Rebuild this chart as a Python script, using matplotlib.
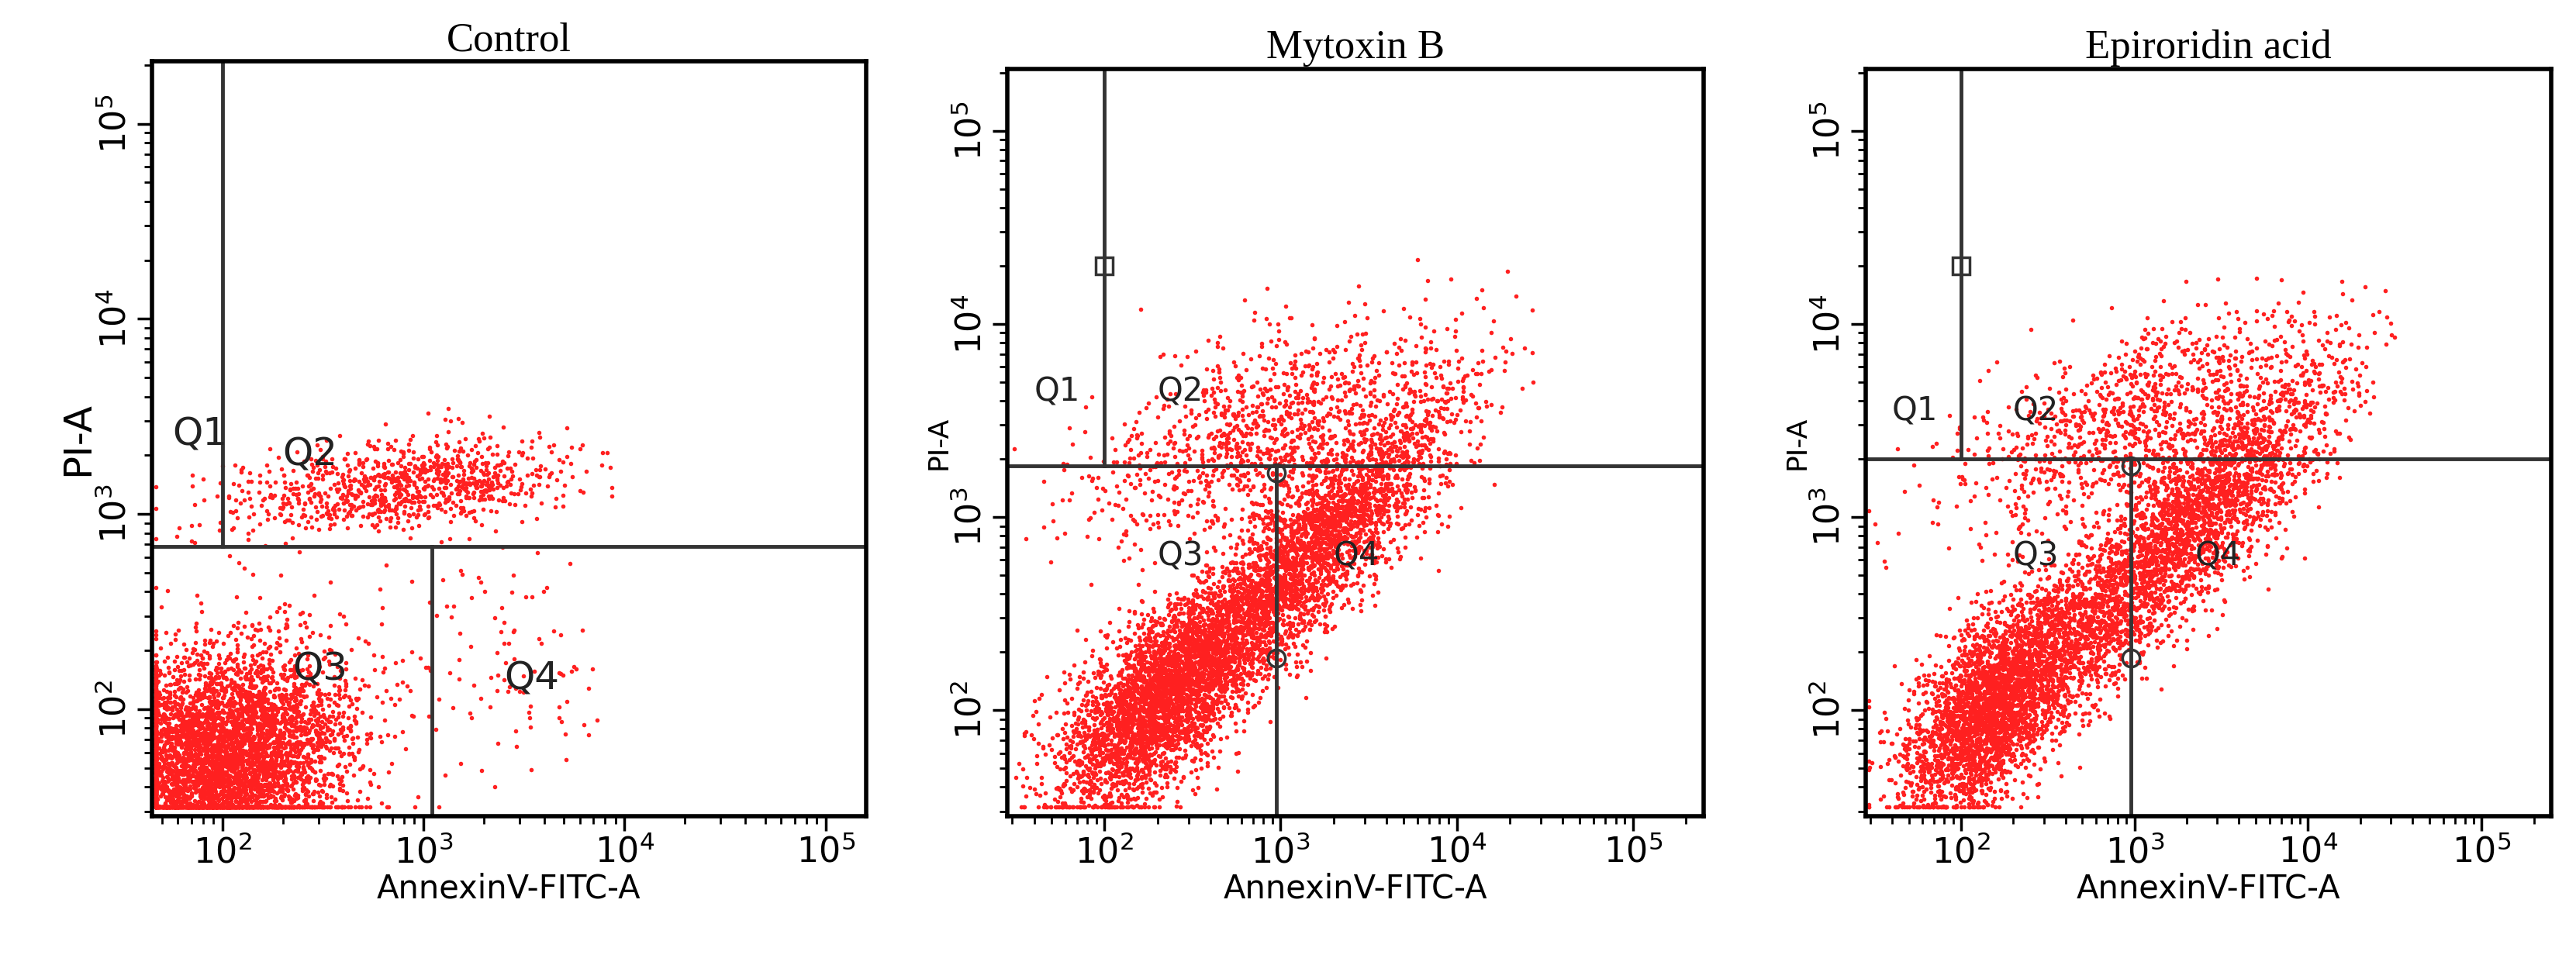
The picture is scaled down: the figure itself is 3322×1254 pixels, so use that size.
import numpy as np
import matplotlib.pyplot as plt
from matplotlib.ticker import LogLocator, NullFormatter

# Panel titles
titles = ['Control', 'Mytoxin B', 'Epiroridin acid']

# Population summaries, in log10 units:
# (centre x, centre y, spread x, spread y, correlation, count)
control_pops = [(2.0, 1.75, 0.30, 0.28, 0.2, 4800),
                (2.9, 3.15, 0.42, 0.12, 0.4, 900),
                (3.3, 2.2, 0.35, 0.35, 0.0, 120)]
mytoxin_pops = [(2.3, 2.05, 0.28, 0.28, 0.6, 2800),
                (3.1, 2.75, 0.45, 0.45, 0.88, 3400),
                (2.9, 3.45, 0.50, 0.28, 0.6, 1000)]
epiro_pops = [(2.2, 2.05, 0.26, 0.28, 0.6, 3000),
              (3.2, 2.85, 0.48, 0.45, 0.88, 3200),
              (3.0, 3.50, 0.50, 0.28, 0.6, 1000)]
populations = [control_pops, mytoxin_pops, epiro_pops]

# Upper limits of the clouds (log10 x, log10 y)
cloud_max = [(4.0, 3.95), (4.45, 4.35), (4.5, 4.25)]

# Quadrant gates: (Q1 vertical, Q3/Q4 vertical, horizontal) in data units
gates = [(100, 1100, 680), (100, 950, 1850), (100, 950, 2000)]

# Axis ranges (log10)
x_range = [(1.65, 5.2), (1.45, 5.4), (1.45, 5.4)]
y_range = (1.45, 5.32)

# Quadrant label positions (log10 x, log10 y)
q_labels = [[('Q1', 1.75, 3.35), ('Q2', 2.3, 3.25), ('Q3', 2.35, 2.15), ('Q4', 3.4, 2.1)],
            [('Q1', 1.6, 3.6), ('Q2', 2.3, 3.6), ('Q3', 2.3, 2.75), ('Q4', 3.3, 2.75)],
            [('Q1', 1.6, 3.5), ('Q2', 2.3, 3.5), ('Q3', 2.3, 2.75), ('Q4', 3.35, 2.75)]]

rng = np.random.default_rng(3)

fig = plt.figure(figsize=(33.23, 12.54), dpi=100)
rects = [[0.059, 0.16, 0.277, 0.777],
         [0.391, 0.16, 0.270, 0.769],
         [0.724, 0.16, 0.266, 0.769]]

for i, rect in enumerate(rects):
    ax = fig.add_axes(rect)
    xs, ys = [], []
    for cx, cy, sx, sy, r, n in populations[i]:
        cov = [[sx**2, r*sx*sy], [r*sx*sy, sy**2]]
        p = rng.multivariate_normal([cx, cy], cov, n)
        xs.append(p[:, 0]); ys.append(p[:, 1])
    lx = np.concatenate(xs); ly = np.concatenate(ys)
    keep = (lx < cloud_max[i][0]) & (ly < cloud_max[i][1])
    lx = np.clip(lx[keep], x_range[i][0] + 0.02, None)
    ly = np.clip(ly[keep], y_range[0] + 0.05, None)
    ax.scatter(10**lx, 10**ly, s=16, color='#ff2020', linewidths=0)

    ax.set_xscale('log'); ax.set_yscale('log')
    ax.set_xlim(10**x_range[i][0], 10**x_range[i][1])
    ax.set_ylim(10**y_range[0], 10**y_range[1])

    g1, g2, gh = gates[i]
    ymin, ymax = ax.get_ylim()
    ax.plot([g1, g1], [gh, ymax], color='#333333', lw=3.5)
    ax.plot([g2, g2], [ymin, gh], color='#333333', lw=3.5)
    ax.axhline(gh, color='#333333', lw=3.5)
    if i > 0:
        ax.plot(g1, 10**4.3, 's', mfc='none', mec='#333333', ms=16, mew=2.5)
        ax.plot(g2, gh * 0.92, 'o', mfc='none', mec='#333333', ms=16, mew=2.5)
        ax.plot(g2, 10**2.27, 'o', mfc='none', mec='#333333', ms=16, mew=2.5)

    for t, qx, qy in q_labels[i]:
        ax.text(10**qx, 10**qy, t, fontsize=30 if i else 36, color='#222222')

    ax.set_title(titles[i], fontsize=38, family='Liberation Serif', pad=10)
    ax.set_xlabel('AnnexinV-FITC-A', fontsize=30, labelpad=2)
    ax.set_ylabel('PI-A', fontsize=36 if i == 0 else 26, labelpad=2)
    ax.xaxis.set_major_locator(LogLocator(base=10, numticks=10))
    ax.yaxis.set_major_locator(LogLocator(base=10, numticks=10))
    ax.xaxis.set_minor_locator(LogLocator(base=10, subs=np.arange(2, 10), numticks=20))
    ax.yaxis.set_minor_locator(LogLocator(base=10, subs=np.arange(2, 10), numticks=20))
    ax.xaxis.set_minor_formatter(NullFormatter())
    ax.yaxis.set_minor_formatter(NullFormatter())
    ax.tick_params(which='major', length=14, width=2.5, labelsize=32)
    ax.tick_params(which='minor', length=7, width=2)
    plt.setp(ax.get_yticklabels(), rotation=90, va='center')
    for s in ax.spines.values():
        s.set_linewidth(4)

fig.savefig('out.png', dpi=100)
